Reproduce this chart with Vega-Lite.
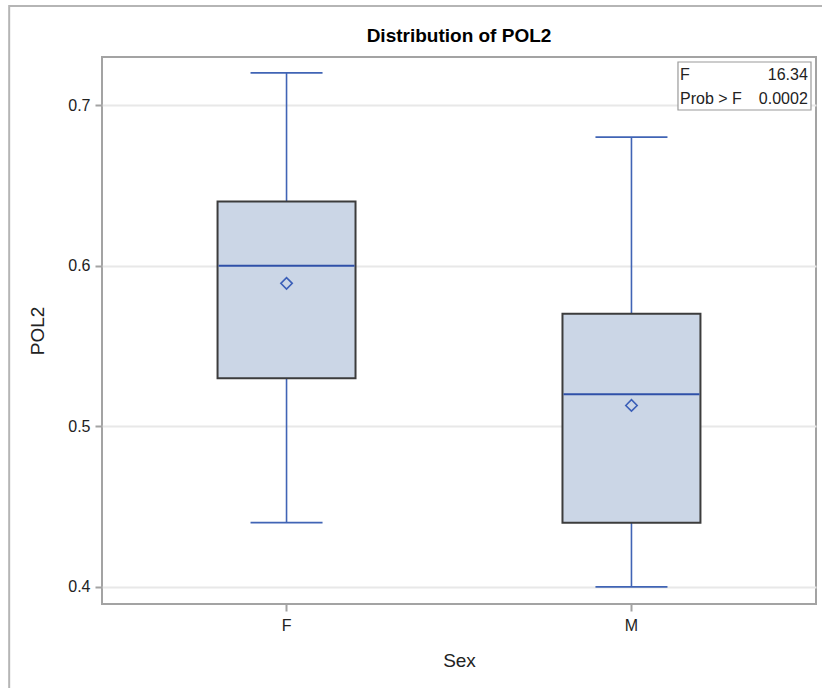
{
  "$schema": "https://vega.github.io/schema/vega-lite/v6.json",
  "width": 714,
  "height": 547,
  "autosize": "none",
  "padding": {"left": 102, "top": 57, "right": 6, "bottom": 84},
  "background": "white",
  "config": {
    "view": {"stroke": "#a3a3a3", "strokeWidth": 2},
    "font": "Liberation Sans"
  },
  "title": {
    "text": "Distribution of POL2",
    "font": "Liberation Sans",
    "fontSize": 19,
    "fontWeight": "bold",
    "color": "#000000",
    "anchor": "middle",
    "frame": "group",
    "offset": -41
  },
  "datasets": {
    "stats": [
      {"Sex": "F", "min": 0.44, "q1": 0.53, "median": 0.60, "q3": 0.64, "max": 0.72, "mean": 0.589},
      {"Sex": "M", "min": 0.40, "q1": 0.44, "median": 0.52, "q3": 0.57, "max": 0.68, "mean": 0.513}
    ],
    "inset": [
      {"label": "F", "value": "16.34", "ty": 0.7189},
      {"label": "Prob > F", "value": "0.0002", "ty": 0.7037}
    ],
    "insetbox": [
      {"x1": 0.8067, "x2": 0.993, "y1": 0.6969, "y2": 0.7268}
    ],
    "frame": [
      {"x1": -0.130, "x2": 1.05, "y1": 0.33, "y2": 0.7616}
    ]
  },
  "layer": [
    {
      "layer": [
        {
          "data": {"name": "stats"},
          "mark": {"type": "rule", "color": "#4064b5", "strokeWidth": 1.6},
          "encoding": {
            "x": {
              "field": "Sex", "type": "nominal",
              "scale": {"type": "band", "paddingInner": 0, "paddingOuter": 0.035},
              "axis": {
                "title": "Sex", "titleFontSize": 19, "titleFontWeight": "normal", "titleColor": "#222",
                "titlePadding": 18, "labelFontSize": 16, "labelColor": "#222", "labelAngle": 0,
                "labelPadding": 6, "tickColor": "#a3a3a3", "tickSize": 7, "tickWidth": 2,
                "domain": false, "grid": false
              }
            },
            "y": {
              "field": "min", "type": "quantitative",
              "scale": {"domain": [0.3894, 0.7299], "nice": false, "zero": false},
              "axis": {
                "title": "POL2", "titleFontSize": 19, "titleFontWeight": "normal", "titleColor": "#222",
                "titlePadding": 20, "values": [0.4, 0.5, 0.6, 0.7], "format": ".1f",
                "labelFontSize": 16, "labelColor": "#222", "labelPadding": 5,
                "tickColor": "#a3a3a3", "tickSize": 7, "tickWidth": 2,
                "domain": false, "grid": true, "gridColor": "#e8e8e8", "gridWidth": 2
              }
            },
            "y2": {"field": "q1"}
          }
        },
        {
          "data": {"name": "stats"},
          "mark": {"type": "rule", "color": "#4064b5", "strokeWidth": 1.6},
          "encoding": {
            "x": {"field": "Sex", "type": "nominal"},
            "y": {"field": "q3", "type": "quantitative"},
            "y2": {"field": "max"}
          }
        },
        {
          "data": {"name": "stats"},
          "mark": {"type": "tick", "color": "#4064b5", "size": 72, "thickness": 1.8, "opacity": 1},
          "encoding": {
            "x": {"field": "Sex", "type": "nominal"},
            "y": {"field": "min", "type": "quantitative"}
          }
        },
        {
          "data": {"name": "stats"},
          "mark": {"type": "tick", "color": "#4064b5", "size": 72, "thickness": 1.8, "opacity": 1},
          "encoding": {
            "x": {"field": "Sex", "type": "nominal"},
            "y": {"field": "max", "type": "quantitative"}
          }
        },
        {
          "data": {"name": "stats"},
          "mark": {"type": "bar", "fill": "#cbd6e6", "stroke": "#3c3c3c", "strokeWidth": 2, "width": {"band": 0.4}},
          "encoding": {
            "x": {"field": "Sex", "type": "nominal"},
            "y": {"field": "q1", "type": "quantitative"},
            "y2": {"field": "q3"}
          }
        },
        {
          "data": {"name": "stats"},
          "mark": {"type": "tick", "color": "#2f50a8", "size": 136, "thickness": 2, "opacity": 1},
          "encoding": {
            "x": {"field": "Sex", "type": "nominal"},
            "y": {"field": "median", "type": "quantitative"}
          }
        },
        {
          "data": {"name": "stats"},
          "mark": {"type": "point", "shape": "diamond", "size": 130, "filled": false, "stroke": "#3b5fb8", "strokeWidth": 1.6, "opacity": 1},
          "encoding": {
            "x": {"field": "Sex", "type": "nominal"},
            "y": {"field": "mean", "type": "quantitative"}
          }
        }
      ]
    },
    {
      "layer": [
        {
          "data": {"name": "frame"},
          "mark": {"type": "rect", "fill": null, "stroke": "#b5b5b5", "strokeWidth": 2, "clip": false},
          "encoding": {
            "x": {"field": "x1", "type": "quantitative", "scale": {"domain": [0, 1], "nice": false, "zero": false}, "axis": null},
            "x2": {"field": "x2"},
            "y": {"field": "y1", "type": "quantitative"},
            "y2": {"field": "y2"}
          }
        },
        {
          "data": {"name": "insetbox"},
          "mark": {"type": "rect", "fill": "white", "stroke": "#9a9a9a", "strokeWidth": 1.2},
          "encoding": {
            "x": {"field": "x1", "type": "quantitative"},
            "x2": {"field": "x2"},
            "y": {"field": "y1", "type": "quantitative"},
            "y2": {"field": "y2"}
          }
        },
        {
          "data": {"name": "inset"},
          "mark": {"type": "text", "align": "left", "baseline": "middle", "fontSize": 16, "color": "#222"},
          "encoding": {
            "x": {"datum": 0.8095, "type": "quantitative"},
            "y": {"field": "ty", "type": "quantitative"},
            "text": {"field": "label"}
          }
        },
        {
          "data": {"name": "inset"},
          "mark": {"type": "text", "align": "right", "baseline": "middle", "fontSize": 16, "color": "#222"},
          "encoding": {
            "x": {"datum": 0.9885, "type": "quantitative"},
            "y": {"field": "ty", "type": "quantitative"},
            "text": {"field": "value"}
          }
        }
      ]
    }
  ],
  "resolve": {"scale": {"x": "independent"}, "axis": {"x": "independent"}}
}
